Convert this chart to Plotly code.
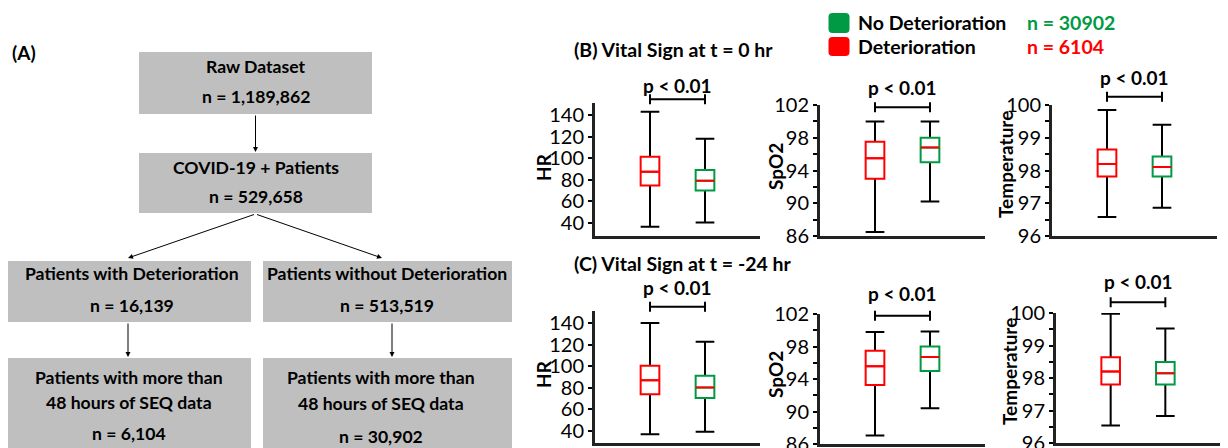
import plotly.graph_objects as go

W, H = 1228, 448

# ---------------- data ----------------
GROUPS = ["Deterioration", "No Deterioration"]
GROUP_N = [6104, 30902]

HR_T0 = {"lower": [36.6, 40.6], "q1": [74.6, 70.0], "median": [87.5, 79.2], "q3": [101.4, 89.0], "upper": [142.8, 118.0]}
SPO2_T0 = {"lower": [86.5, 90.2], "q1": [93.0, 95.0], "median": [95.5, 96.8], "q3": [97.5, 98.0], "upper": [100.0, 100.0]}
TEMP_T0 = {"lower": [96.58, 96.86], "q1": [97.82, 97.82], "median": [98.2, 98.11], "q3": [98.64, 98.43], "upper": [99.85, 99.4]}
HR_TM24 = {"lower": [37.2, 39.3], "q1": [74.0, 70.7], "median": [87.0, 80.3], "q3": [100.5, 91.2], "upper": [140.0, 122.5]}
SPO2_TM24 = {"lower": [87.05, 90.4], "q1": [93.27, 95.0], "median": [95.58, 96.7], "q3": [97.47, 98.0], "upper": [99.8, 99.85]}
TEMP_TM24 = {"lower": [96.54, 96.83], "q1": [97.8, 97.8], "median": [98.2, 98.15], "q3": [98.64, 98.49], "upper": [99.98, 99.52]}

HR_TICKS = [40, 60, 80, 100, 120, 140]
SPO2_TICKS = [86, 88, 90, 92, 94, 96, 98, 100, 102]
SPO2_LABELED = [86, 90, 94, 98, 102]
TEMP_TICKS = [96, 96.5, 97, 97.5, 98, 98.5, 99, 99.5, 100]
TEMP_LABELED = [96, 97, 98, 99, 100]

P_TEXT = "p < 0.01"

FLOW_LABELS = [["Raw Dataset"], ["COVID-19 + Patients"], ["Patients with Deterioration"],
               ["Patients without Deterioration"], ["Patients with more than", "48 hours of SEQ data"],
               ["Patients with more than", "48 hours of SEQ data"]]
FLOW_COUNTS = [1189862, 529658, 16139, 513519, 6104, 30902]

# ---------------- styles ----------------
FONT = "Lato"
RED = "#FF0000"
GREEN = "#009A44"
OUTLINE = [RED, GREEN]
GREY = "#BFBFBF"
BOX_W = 0.34


def px(x):
    return x / W


def py(y):
    return 1 - y / H


fig = go.Figure()
shapes = []
annotations = []

# ---------------- flowchart (A) ----------------
flow_boxes = [(139, 372, 52, 114), (139, 372, 153, 213), (8, 251, 261, 322),
              (263, 512, 261, 322), (8, 251, 358, 448), (263, 512, 358, 448)]
flow_text_x = [256, 256, 132, 387.5, 128.5, 381]
flow_text_y = [[66, 96], [167, 196], [273.5, 305], [273.5, 305], [377, 402.5, 433.5], [377, 403, 436.5]]
for (x0, x1, y0, y1), lbl, n, tx, tys in zip(flow_boxes, FLOW_LABELS, FLOW_COUNTS, flow_text_x, flow_text_y):
    shapes.append(dict(type="rect", xref="paper", yref="paper", x0=px(x0), x1=px(x1), y0=py(y1), y1=py(y0),
                       fillcolor=GREY, line=dict(width=0), layer="below"))
    lines = lbl + [f"n = {n:,}"]
    for t, ty in zip(lines, tys):
        annotations.append(dict(text=t, x=px(tx), y=py(ty), xref="paper", yref="paper", showarrow=False,
                                xanchor="center", yanchor="middle",
                                font=dict(family=FONT, size=17.6, color="black", weight=700)))

arrows = [((255.5, 114), (255.5, 152)), ((255.5, 214), (128, 258)), ((255.5, 214), (382, 258)),
          ((128, 322), (128, 357)), ((392, 322), (392, 357))]
for (tx, ty), (hx, hy) in arrows:
    annotations.append(dict(text="", x=px(hx), y=py(hy), xref="paper", yref="paper", showarrow=True,
                            ax=tx - hx, ay=ty - hy, axref="pixel", ayref="pixel",
                            arrowhead=2, arrowsize=1, arrowwidth=1, arrowcolor="black", standoff=0))

annotations.append(dict(text="(A)", x=px(10), y=py(52), xref="paper", yref="paper", showarrow=False,
                        xanchor="left", yanchor="middle", font=dict(family=FONT, size=19, color="black", weight=700)))

# ---------------- box panels ----------------
panels = [
    (HR_T0, "HR", (595, 760), (103, 236), [28, 151], HR_TICKS, HR_TICKS, (543, 167), 99.3, 85.5),
    (SPO2_T0, "SpO2", (820, 985), (105, 236), [86, 102], SPO2_TICKS, SPO2_LABELED, (775, 166), 107.3, 88),
    (TEMP_T0, "Temperature", (1052, 1217), (105, 236), [96, 100], TEMP_TICKS, TEMP_LABELED, (1005, 165), 96.7, 78),
    (HR_TM24, "HR", (595, 760), (311, 443), [29, 151], HR_TICKS, HR_TICKS, (543, 374), 306.7, 287.5),
    (SPO2_TM24, "SpO2", (820, 985), (314, 444), [86, 102], SPO2_TICKS, SPO2_LABELED, (775, 374), 315.7, 293),
    (TEMP_TM24, "Temperature", (1056, 1220), (313, 443), [96, 100], TEMP_TICKS, TEMP_LABELED, (1009, 372), 302.3, 281),
]

layout_axes = {}
for i, (d, ytitle, (dx0, dx1), (dy0, dy1), yrange, tickv, labeled, (tx, ty), bry, pty) in enumerate(panels, start=1):
    xa = "x" if i == 1 else f"x{i}"
    ya = "y" if i == 1 else f"y{i}"
    for g, name in enumerate(GROUPS):
        pos = g + 1
        common = dict(x=[pos], xaxis=xa, yaxis=ya, width=BOX_W, boxpoints=False, showlegend=False,
                      hoverinfo="skip", fillcolor="white", name=name)
        # whiskers (black)
        fig.add_trace(go.Box(lowerfence=[d["lower"][g]], q1=[d["median"][g]], median=[d["median"][g]],
                             q3=[d["median"][g]], upperfence=[d["upper"][g]], whiskerwidth=1,
                             line=dict(color="black", width=2), **common))
        # box outline
        fig.add_trace(go.Box(lowerfence=[d["q1"][g]], q1=[d["q1"][g]], median=[d["median"][g]],
                             q3=[d["q3"][g]], upperfence=[d["q3"][g]], whiskerwidth=0,
                             line=dict(color=OUTLINE[g], width=2), **common))
        # median (red)
        fig.add_trace(go.Box(lowerfence=[d["median"][g]], q1=[d["median"][g]], median=[d["median"][g]],
                             q3=[d["median"][g]], upperfence=[d["median"][g]], whiskerwidth=0,
                             line=dict(color=RED, width=2), **common))

    xkey = "xaxis" if i == 1 else f"xaxis{i}"
    ykey = "yaxis" if i == 1 else f"yaxis{i}"
    layout_axes[xkey] = dict(domain=[px(dx0), px(dx1)], range=[0, len(GROUPS) + 1], anchor=ya,
                             showgrid=False, zeroline=False, showticklabels=False, ticks="",
                             showline=True, linewidth=3, linecolor="#222222", fixedrange=True,
                             automargin=False)
    ticktext = [(f"{v:g}" if v in labeled else "") for v in tickv]
    layout_axes[ykey] = dict(domain=[py(dy1), py(dy0)], range=yrange, anchor=xa,
                             showgrid=False, zeroline=False, tickmode="array", tickvals=tickv, ticktext=ticktext,
                             ticks="outside", ticklen=4, tickwidth=2, tickcolor="black",
                             showline=True, linewidth=3, linecolor="#222222",
                             tickfont=dict(family=FONT, size=20, color="black"), fixedrange=True,
                             automargin=False, ticklabeloverflow="allow")
    # y title
    annotations.append(dict(text=ytitle, x=px(tx), y=py(ty), xref="paper", yref="paper", showarrow=False,
                            textangle=-90, xanchor="center", yanchor="middle",
                            font=dict(family=FONT, size=19, color="black", weight=700)))
    # significance bracket
    x1p, x2p = 1, len(GROUPS)
    yb = py(bry)
    cap = 5 / H
    shapes.append(dict(type="path", xref=xa, yref="paper",
                       path=f"M {x1p},{yb + cap} L {x1p},{yb - cap} M {x1p},{yb} L {x2p},{yb} "
                            f"M {x2p},{yb + cap} L {x2p},{yb - cap}",
                       line=dict(color="black", width=2)))
    annotations.append(dict(text=P_TEXT, x=(x1p + x2p) / 2, y=py(pty), xref=xa, yref="paper",
                            showarrow=False, xanchor="center", yanchor="middle",
                            font=dict(family=FONT, size=19, color="black", weight=700)))

# panel titles
annotations.append(dict(text="(B) Vital Sign at t = 0 hr", x=px(572), y=py(49.5), xref="paper", yref="paper",
                        showarrow=False, xanchor="left", yanchor="middle",
                        font=dict(family=FONT, size=19.5, color="black", weight=700)))
annotations.append(dict(text="(C) Vital Sign at t = -24 hr", x=px(572), y=py(263), xref="paper", yref="paper",
                        showarrow=False, xanchor="left", yanchor="middle",
                        font=dict(family=FONT, size=19.5, color="black", weight=700)))

# legend
legend_rows = [(GROUPS[1], GROUP_N[1], GREEN, 13, 33), (GROUPS[0], GROUP_N[0], RED, 37, 56)]
for name, n, col, y0, y1 in legend_rows:
    x0, x1, r = 828.5, 849.5, 4
    X0, X1, Y0, Y1 = px(x0), px(x1), py(y1), py(y0)
    rx, ry = r / W, r / H
    path = (f"M {X0 + rx},{Y0} L {X1 - rx},{Y0} Q {X1},{Y0} {X1},{Y0 + ry} L {X1},{Y1 - ry} "
            f"Q {X1},{Y1} {X1 - rx},{Y1} L {X0 + rx},{Y1} Q {X0},{Y1} {X0},{Y1 - ry} "
            f"L {X0},{Y0 + ry} Q {X0},{Y0} {X0 + rx},{Y0} Z")
    shapes.append(dict(type="path", xref="paper", yref="paper", path=path, fillcolor=col, line=dict(width=0)))
    yc = (y0 + y1) / 2
    annotations.append(dict(text=name, x=px(856), y=py(yc), xref="paper", yref="paper", showarrow=False,
                            xanchor="left", yanchor="middle",
                            font=dict(family=FONT, size=19.5, color="black", weight=700)))
    annotations.append(dict(text=f"n = {n}", x=px(1025), y=py(yc), xref="paper", yref="paper", showarrow=False,
                            xanchor="left", yanchor="middle",
                            font=dict(family=FONT, size=19.5, color=col, weight=700)))

fig.update_layout(width=W, height=H, margin=dict(l=0, r=0, t=0, b=0, autoexpand=False), paper_bgcolor="white",
                  plot_bgcolor="white", boxmode="overlay", showlegend=False,
                  shapes=shapes, annotations=annotations, **layout_axes)

fig.write_html("out.html", config={"displayModeBar": False})
